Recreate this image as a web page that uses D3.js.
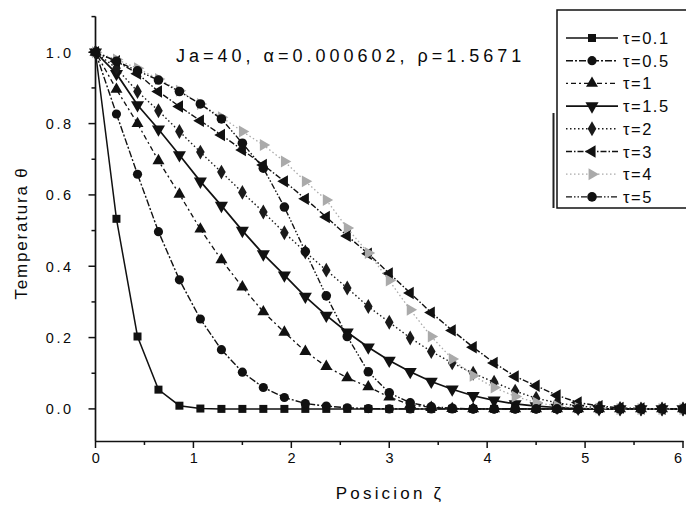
<!DOCTYPE html>
<html>
<head>
<meta charset="utf-8">
<script src="https://cdn.jsdelivr.net/npm/d3@7"></script>
<style>
  html, body { margin: 0; padding: 0; background: #fff; }
  svg { display: block; font-family: "Liberation Sans", Arial, Helvetica, sans-serif; }
</style>
</head>
<body>
<svg id="chart" width="686" height="511"></svg>
<script>
// Position along the slab (ζ) at which every profile is sampled
const zeta = [0, 0.214, 0.429, 0.643, 0.857, 1.071, 1.286, 1.5, 1.714, 1.929,
  2.143, 2.357, 2.571, 2.786, 3.0, 3.214, 3.429, 3.643, 3.857, 4.071,
  4.286, 4.5, 4.714, 4.929, 5.143, 5.357, 5.571, 5.786, 6.0];

// Temperature profiles θ(ζ) for each dimensionless time τ
const theta01 = [1.0, 0.533, 0.203, 0.054, 0.009, 0.001, 0, 0, 0, 0,
  0, 0, 0, 0, 0, 0, 0, 0, 0, 0, 0, 0, 0, 0, 0, 0, 0, 0, 0];
const theta05 = [1.0, 0.827, 0.658, 0.497, 0.362, 0.252, 0.166, 0.103, 0.06, 0.032,
  0.015, 0.008, 0.003, 0.001, 0, 0, 0, 0, 0, 0, 0, 0, 0, 0, 0, 0, 0, 0, 0];
const theta1 = [1.0, 0.896, 0.80, 0.696, 0.602, 0.504, 0.418, 0.342, 0.272, 0.215,
  0.161, 0.119, 0.087, 0.062, 0.033, 0.012, 0.004, 0.001, 0, 0,
  0, 0, 0, 0, 0, 0, 0, 0, 0];
const theta15 = [1.0, 0.94, 0.852, 0.784, 0.712, 0.638, 0.57, 0.50, 0.434, 0.375,
  0.315, 0.262, 0.215, 0.173, 0.136, 0.104, 0.077, 0.055, 0.037, 0.024,
  0.014, 0.008, 0.004, 0.001, 0, 0, 0, 0, 0];
const theta2 = [1.0, 0.955, 0.89, 0.836, 0.778, 0.72, 0.664, 0.607, 0.552, 0.494,
  0.44, 0.389, 0.339, 0.287, 0.243, 0.199, 0.161, 0.129, 0.10, 0.075,
  0.05, 0.03, 0.017, 0.008, 0.003, 0.001, 0, 0, 0];
const theta3 = [1.0, 0.975, 0.94, 0.89, 0.848, 0.808, 0.768, 0.726, 0.684, 0.638,
  0.589, 0.538, 0.485, 0.435, 0.38, 0.325, 0.27, 0.22, 0.173, 0.129,
  0.091, 0.065, 0.038, 0.018, 0.008, 0.003, 0.001, 0, 0];
const theta4 = [1.0, 0.98, 0.955, 0.925, 0.892, 0.855, 0.818, 0.778, 0.74, 0.694,
  0.638, 0.586, 0.507, 0.437, 0.36, 0.278, 0.203, 0.14, 0.093, 0.06,
  0.035, 0.018, 0.008, 0.003, 0.001, 0, 0, 0, 0];
const theta5 = [1.0, 0.975, 0.948, 0.922, 0.89, 0.855, 0.813, 0.745, 0.675, 0.566,
  0.441, 0.317, 0.203, 0.104, 0.045, 0.017, 0.006, 0.002, 0, 0,
  0, 0, 0, 0, 0, 0, 0, 0, 0];

const seriesNames = ["τ=0.1", "τ=0.5", "τ=1", "τ=1.5", "τ=2", "τ=3", "τ=4", "τ=5"];
const seriesValues = [theta01, theta05, theta1, theta15, theta2, theta3, theta4, theta5];

const xTicks = [0, 1, 2, 3, 4, 5, 6];
const yTicks = [0.0, 0.2, 0.4, 0.6, 0.8, 1.0];

const annotation = "Ja=40, α=0.000602, ρ=1.5671";
const xTitle = "Posicion ζ";
const yTitle = "Temperatura θ";

// Drawing style per series: marker shape, dash pattern, colour
const styles = [
  { sym: d3.symbolSquare,   size: 64, dash: null,              color: "#111", lw: 1.5, rot: 0 },
  { sym: d3.symbolCircle,   size: 66, dash: "7,2,2,2",         color: "#111", lw: 1.4, rot: 0 },
  { sym: d3.symbolTriangle, size: 62, dash: "2,3,5,3",         color: "#111", lw: 1.3, rot: 0 },
  { sym: d3.symbolTriangle, size: 74, dash: null,              color: "#111", lw: 1.7, rot: 180 },
  { sym: d3.symbolDiamond,  size: 64, dash: "1.5,2.5",         color: "#1a1a1a", lw: 1.4, rot: 0 },
  { sym: d3.symbolTriangle, size: 66, dash: "6,2,1.5,2",       color: "#111", lw: 1.4, rot: -90 },
  { sym: d3.symbolTriangle, size: 62, dash: "1.5,2.5",         color: "#aaa", lw: 1.3, rot: 90 },
  { sym: d3.symbolCircle,   size: 72, dash: "6,2,1.5,2,1.5,2", color: "#111", lw: 1.4, rot: 0 }
];

const svg = d3.select("#chart");

const x = d3.scaleLinear().domain([0, 6]).range([95.5, 683]);
const y = d3.scaleLinear().domain([-0.09, 1.1]).range([441, 16.6]);

const textColor = "#0a0a0a";

// Axes
const xAxis = d3.axisBottom(x).tickValues(d3.range(0, 6.01, 0.5))
  .tickSize(0).tickFormat("");
const gx = svg.append("g").attr("transform", `translate(0,${y(-0.09)})`).call(xAxis);
gx.select(".domain").attr("stroke", "#111").attr("stroke-width", 1.7);

svg.append("g").selectAll("line").data(d3.range(0, 6.01, 0.5)).join("line")
  .attr("x1", d => x(d)).attr("x2", d => x(d))
  .attr("y1", y(-0.09)).attr("y2", d => y(-0.09) + (Number.isInteger(d) ? 7 : 4))
  .attr("stroke", "#111").attr("stroke-width", 1.5);

// the last label sits against the right edge, so it is kept inside the frame
svg.append("g").selectAll("text").data(xTicks).join("text")
  .attr("x", d => Math.min(x(d) + 1.5, 678))
  .attr("y", 463)
  .attr("text-anchor", "middle")
  .attr("font-size", 14.5).attr("letter-spacing", d => d === 6 ? 0 : 2.5).attr("fill", textColor)
  .text(d => d3.format("d")(d));

svg.append("line")
  .attr("x1", x(0)).attr("x2", x(0)).attr("y1", y(1.1)).attr("y2", y(-0.09))
  .attr("stroke", "#111").attr("stroke-width", 1.7);

const yMinor = [0.1, 0.3, 0.5, 0.7, 0.9, 1.1];
svg.append("g").selectAll("line").data(yTicks.concat(yMinor)).join("line")
  .attr("x1", x(0)).attr("x2", d => x(0) - (yTicks.includes(d) ? 7 : 4))
  .attr("y1", d => y(d)).attr("y2", d => y(d))
  .attr("stroke", "#111").attr("stroke-width", 1.5);

svg.append("g").selectAll("text").data(yTicks).join("text")
  .attr("x", 73.5).attr("y", d => y(d) + 5.5)
  .attr("text-anchor", "end")
  .attr("font-size", 14.5).attr("letter-spacing", 2.5).attr("fill", textColor)
  .text(d => d3.format(".1f")(d));

// Axis titles
svg.append("text")
  .attr("x", 390).attr("y", 499)
  .attr("text-anchor", "middle").attr("font-size", 17)
  .attr("letter-spacing", 3.2).attr("fill", textColor)
  .text(xTitle);

svg.append("text")
  .attr("transform", `translate(27,233) rotate(-90)`)
  .attr("text-anchor", "middle").attr("font-size", 17)
  .attr("letter-spacing", 1.8).attr("fill", textColor)
  .text(yTitle);

// Parameter annotation
svg.append("text")
  .attr("x", 176).attr("y", 62)
  .attr("font-size", 18).attr("letter-spacing", 4).attr("fill", textColor)
  .text(annotation);

// Profiles
const line = d3.line().x(d => x(d[0])).y(d => y(d[1]));

seriesValues.forEach((vals, k) => {
  const st = styles[k];
  const pts = zeta.map((z, i) => [z, vals[i]]);
  const g = svg.append("g");
  g.append("path").datum(pts)
    .attr("d", line).attr("fill", "none")
    .attr("stroke", st.color).attr("stroke-width", st.lw)
    .attr("stroke-dasharray", st.dash);
  g.selectAll("path.m").data(pts).join("path").attr("class", "m")
    .attr("d", d3.symbol().type(st.sym).size(st.size))
    .attr("transform", d => `translate(${x(d[0])},${y(d[1])}) rotate(${st.rot})`)
    .attr("fill", st.color);
});

// Legend
const lg = svg.append("g");
lg.append("rect").attr("x", 557).attr("y", 10).attr("width", 140).attr("height", 198)
  .attr("fill", "#fff").attr("stroke", "#111").attr("stroke-width", 1.5);
lg.append("line").attr("x1", 553.5).attr("x2", 553.5).attr("y1", 113).attr("y2", 208)
  .attr("stroke", "#222").attr("stroke-width", 2);

seriesNames.forEach((name, k) => {
  const st = styles[k];
  const cy = 38 + k * 22.7;
  lg.append("line").attr("x1", 566).attr("x2", 618).attr("y1", cy).attr("y2", cy)
    .attr("stroke", st.color).attr("stroke-width", st.lw)
    .attr("stroke-dasharray", st.dash);
  lg.append("path")
    .attr("d", d3.symbol().type(st.sym).size(st.size)())
    .attr("transform", `translate(592,${cy}) rotate(${st.rot})`)
    .attr("fill", st.color);
  lg.append("text").attr("x", 623).attr("y", cy + 6)
    .attr("font-size", 16.5).attr("letter-spacing", 1.5).attr("fill", textColor)
    .text(name);
});
</script>
</body>
</html>
